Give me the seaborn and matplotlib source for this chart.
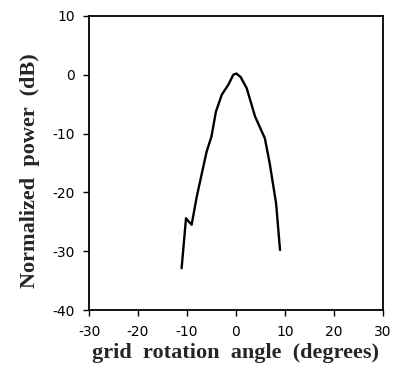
import matplotlib
matplotlib.use("Agg")
import matplotlib.pyplot as plt
import seaborn as sns
import pandas as pd

# Measured normalized power versus grid rotation angle
angle_deg = [-11.1, -10.2, -9.6, -9.05, -8.0, -6.0, -5.0, -4.1, -2.9, -1.55,
             -0.55, 0.1, 0.96, 2.2, 3.9, 5.9, 6.9, 8.2, 9.0]
power_db = [-32.9, -24.4, -25.0, -25.5, -20.7, -13.1, -10.5, -6.3, -3.4, -1.7,
            0.0, 0.2, -0.4, -2.3, -7.1, -10.8, -15.1, -21.9, -29.8]
x_ticks = [-30, -20, -10, 0, 10, 20, 30]
y_ticks = [-40, -30, -20, -10, 0, 10]

sns.set_style("white")
plt.rcParams["font.family"] = ["DejaVu Sans"]

df = pd.DataFrame({"angle": angle_deg, "power": power_db})

fig = plt.figure(figsize=(4.03, 3.79), dpi=100)
ax = fig.add_axes([0.221, 0.182, 0.729, 0.776])

sns.lineplot(data=df, x="angle", y="power", sort=False, color="black",
             linewidth=1.7, ax=ax)

ax.set_xlim(-30, 30)
ax.set_ylim(-40, 10)
ax.set_xticks(x_ticks)
ax.set_yticks(y_ticks)
ax.set_xticklabels([str(t) for t in x_ticks])
ax.set_yticklabels([str(t) for t in y_ticks])

for s in ax.spines.values():
    s.set_color("black")
    s.set_linewidth(1.3)

ax.tick_params(axis="both", which="major", direction="out", length=4,
               width=1.0, color="black", labelsize=10, labelcolor="black",
               bottom=True, left=True, top=False, right=False)
ax.tick_params(axis="x", pad=7)
ax.tick_params(axis="y", pad=6)

label_font = dict(family="Liberation Serif", weight="bold", size=16)
ax.set_xlabel("grid  rotation  angle  (degrees)", labelpad=3, **label_font)
ax.set_ylabel("Normalized  power  (dB)", labelpad=9, **label_font)
ax.yaxis.label.set_y(0.475)

fig.savefig("out.png", dpi=100, facecolor="white")
